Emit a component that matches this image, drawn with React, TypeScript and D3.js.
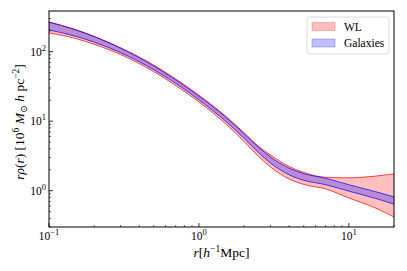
import * as d3 from 'd3'

const W = 407
const H = 271
const M = { top: 11, right: 13, bottom: 44, left: 49 }

// radii (h^-1 Mpc)
const R = [0.1, 0.15, 0.2, 0.3, 0.5, 0.7, 1, 1.5, 2, 2.5, 3, 4, 5, 7, 10, 15, 20]

// WL band
const wlUpper = [264.8, 206.6, 165.4, 114.2, 64.2, 40.6, 23.7, 11.92, 6.83, 4.34, 3.26, 2.23, 1.83, 1.56, 1.53, 1.62, 1.74]
const wlLower = [185.8, 154.9, 127.8, 91.1, 51.6, 32.6, 18.9, 9.27, 5.1, 3.1, 2.19, 1.47, 1.23, 1.06, 0.785, 0.564, 0.418]

// Galaxies band
const galUpper = [267.5, 208.0, 165.4, 112.3, 62.1, 39.3, 22.9, 11.53, 6.61, 4.2, 3.05, 2.11, 1.76, 1.51, 1.216, 0.97, 0.814]
const galLower = [205.2, 167.1, 137.4, 97.1, 55.1, 35.1, 20.3, 10.1, 5.68, 3.53, 2.5, 1.69, 1.41, 1.22, 0.984, 0.775, 0.641]

const X_DOMAIN: [number, number] = [0.1, 20]
const Y_DOMAIN: [number, number] = [0.3, 385]
const X_MAJOR = [{ v: 0.1, exp: '−1' }, { v: 1, exp: '0' }, { v: 10, exp: '1' }]
const Y_MAJOR = [{ v: 1, exp: '0' }, { v: 10, exp: '1' }, { v: 100, exp: '2' }]

const SERIF = '"Liberation Serif", "DejaVu Serif", serif'

function minorTicks(lo: number, hi: number) {
  const out: number[] = []
  for (let e = -2; e <= 3; e++) {
    for (let k = 2; k <= 9; k++) {
      const v = k * Math.pow(10, e)
      if (v >= lo && v <= hi) out.push(v)
    }
  }
  return out
}

export default function App() {
  const x = d3.scaleLog().domain(X_DOMAIN).range([M.left, W - M.right])
  const y = d3.scaleLog().domain(Y_DOMAIN).range([H - M.bottom, M.top])

  const band = (lo: number[], hi: number[]) =>
    d3.area<number>()
      .x((_, i) => x(R[i]))
      .y0((_, i) => y(lo[i]))
      .y1((_, i) => y(hi[i]))
      .curve(d3.curveMonotoneX)(R) || ''

  const edge = (vals: number[]) =>
    d3.line<number>()
      .x((_, i) => x(R[i]))
      .y((_, i) => y(vals[i]))
      .curve(d3.curveMonotoneX)(R) || ''

  const left = M.left
  const right = W - M.right
  const top = M.top
  const bottom = H - M.bottom

  return (
    <svg width={W} height={H} style={{ position: 'absolute', left: 0, top: 0, background: '#fff' }} fontFamily={SERIF}>
      <defs>
        <clipPath id="plot">
          <rect x={left} y={top} width={right - left} height={bottom - top} />
        </clipPath>
      </defs>

      <g clipPath="url(#plot)">
        {/* WL */}
        <path d={band(wlLower, wlUpper)} fill="red" fillOpacity={0.25} />
        <path d={edge(wlUpper)} fill="none" stroke="red" strokeOpacity={0.7} strokeWidth={1} />
        <path d={edge(wlLower)} fill="none" stroke="red" strokeOpacity={0.7} strokeWidth={1} />
        {/* Galaxies */}
        <path d={band(galLower, galUpper)} fill="blue" fillOpacity={0.27} />
        <path d={edge(galUpper)} fill="none" stroke="blue" strokeOpacity={0.7} strokeWidth={1} />
        <path d={edge(galLower)} fill="none" stroke="blue" strokeOpacity={0.7} strokeWidth={1} />
      </g>

      {/* frame */}
      <rect x={left} y={top} width={right - left} height={bottom - top} fill="none" stroke="#000" strokeWidth={1} />

      {/* x ticks */}
      {X_MAJOR.map(t => (
        <g key={`xt${t.v}`}>
          <line x1={x(t.v)} x2={x(t.v)} y1={bottom} y2={bottom - 4} stroke="#000" strokeWidth={0.8} />
          <text x={x(t.v)} y={bottom + 13} textAnchor="middle" fontSize={11.5}>
            10<tspan dy={-5} fontSize={8.5}>{t.exp}</tspan>
          </text>
        </g>
      ))}
      {minorTicks(X_DOMAIN[0], X_DOMAIN[1]).map(v => (
        <line key={`xm${v}`} x1={x(v)} x2={x(v)} y1={bottom} y2={bottom - 2} stroke="#000" strokeWidth={0.6} />
      ))}

      {/* y ticks */}
      {Y_MAJOR.map(t => (
        <g key={`yt${t.v}`}>
          <line x1={left} x2={left + 4} y1={y(t.v)} y2={y(t.v)} stroke="#000" strokeWidth={0.8} />
          <text x={left - 3} y={y(t.v) + 4} textAnchor="end" fontSize={11.5}>
            10<tspan dy={-5} fontSize={8.5}>{t.exp}</tspan>
          </text>
        </g>
      ))}
      {minorTicks(Y_DOMAIN[0], Y_DOMAIN[1]).map(v => (
        <line key={`ym${v}`} x1={left} x2={left + 2} y1={y(v)} y2={y(v)} stroke="#000" strokeWidth={0.6} />
      ))}

      {/* axis labels */}
      <text x={(left + right) / 2} y={bottom + 30} textAnchor="middle" fontSize={13.5}>
        <tspan fontStyle="italic">r</tspan>
        <tspan>[</tspan>
        <tspan fontStyle="italic">h</tspan>
        <tspan dy={-5} fontSize={9.5}>−1</tspan>
        <tspan dy={5}>Mpc]</tspan>
      </text>
      <text transform={`translate(24,${(top + bottom) / 2 + 3}) rotate(-90)`} textAnchor="middle" fontSize={13.5}>
        <tspan fontStyle="italic">rρ</tspan>
        <tspan>(</tspan>
        <tspan fontStyle="italic">r</tspan>
        <tspan>) [10</tspan>
        <tspan dy={-5} fontSize={9.5}>6</tspan>
        <tspan dy={5} fontStyle="italic"> M</tspan>
        <tspan dy={2.5} fontSize={9.5}>⊙</tspan>
        <tspan dy={-2.5} fontStyle="italic"> h</tspan>
        <tspan> pc</tspan>
        <tspan dy={-5} fontSize={9.5}>−2</tspan>
        <tspan dy={5}>]</tspan>
      </text>

      {/* legend */}
      <g>
        <rect x={307} y={17} width={82} height={37} rx={2.5} fill="#fff" fillOpacity={0.8} stroke="#d0d0d0" strokeWidth={0.8} />
        <rect x={312} y={22.5} width={23} height={8} fill="red" fillOpacity={0.25} stroke="red" strokeOpacity={0.3} strokeWidth={0.8} />
        <text x={344} y={30.5} fontSize={11.5}>WL</text>
        <rect x={312} y={39} width={23} height={8} fill="blue" fillOpacity={0.25} stroke="blue" strokeOpacity={0.3} strokeWidth={0.8} />
        <text x={344} y={47} fontSize={11.5}>Galaxies</text>
      </g>
    </svg>
  )
}
